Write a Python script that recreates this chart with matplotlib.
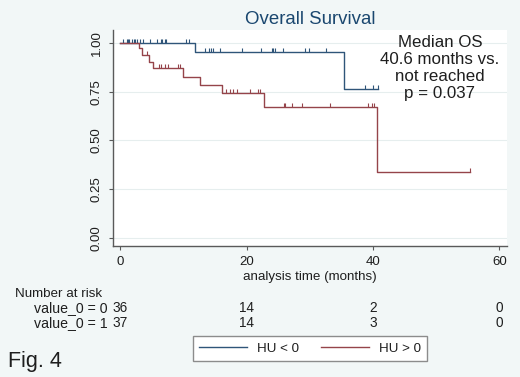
import numpy as np
import matplotlib
matplotlib.use('Agg')
import matplotlib.pyplot as plt
from matplotlib.path import Path
from matplotlib.markers import MarkerStyle
from matplotlib.lines import Line2D
from matplotlib.transforms import blended_transform_factory

plt.rcParams['font.family'] = ['Liberation Sans', 'DejaVu Sans']

# ---------------- data ----------------
group_labels = ["HU < 0", "HU > 0"]

blue_event_times = [0, 11.8, 35.4]
blue_survival = [1.0, 0.955, 0.765]
blue_last_time = 40.8
blue_censor_times = [0.5, 1.0, 1.2, 1.4, 1.8, 2.1, 2.4, 2.7, 3.1, 3.6, 4.7, 5.8,
                     6.4, 6.6, 7.0, 7.2, 10.4, 10.9, 13.4, 14.0, 14.3, 14.6, 15.8,
                     19.2, 22.3, 24.0, 24.2, 24.5, 25.8, 29.2, 29.9, 32.5, 38.7,
                     40.0, 40.8]

red_event_times = [0, 3.0, 3.5, 4.6, 5.1, 9.9, 12.6, 16.1, 22.7, 40.6]
red_survival = [1.0, 0.973, 0.94, 0.905, 0.871, 0.828, 0.785, 0.745, 0.674, 0.337]
red_last_time = 55.4
red_censor_times = [4.3, 6.1, 6.5, 7.0, 7.5, 9.1, 9.5, 16.7, 17.4, 17.9, 18.4,
                    20.5, 21.8, 22.1, 25.9, 26.1, 27.2, 28.7, 33.2, 39.2, 39.8,
                    40.2, 55.4]

risk_times = [0, 20, 40, 60]
risk_row_labels = ["value_0 = 0", "value_0 = 1"]
at_risk_0 = [36, 14, 2, 0]
at_risk_1 = [37, 14, 3, 0]

x_ticks = [0, 20, 40, 60]
y_ticks = [0.0, 0.25, 0.5, 0.75, 1.0]
y_tick_labels = ["0.00", "0.25", "0.50", "0.75", "1.00"]

annotation_lines = ["Median OS", "40.6 months vs.", "not reached", "p = 0.037"]

# ---------------- style ----------------
BG = '#f2f7f7'
BLUE = '#2f5579'
RED = '#95444a'
TXT = '#1e1e1e'
W, H = 520, 377

fig = plt.figure(figsize=(W / 100, H / 100), dpi=100, facecolor=BG)
ax = fig.add_axes([112.7 / W, 1 - 246 / H, (507 - 112.7) / W, 216 / H])
ax.set_facecolor('white')
ax.set_xlim(-1.2, 61.2)
ax.set_ylim(-0.043, 1.068)

for s in ['top', 'right']:
    ax.spines[s].set_visible(False)
for s in ['left', 'bottom']:
    ax.spines[s].set_color('#5a5a5a')
    ax.spines[s].set_linewidth(1.0)

ax.set_xticks(x_ticks)
ax.set_yticks(y_ticks)
ax.set_yticklabels(y_tick_labels)
ax.tick_params(axis='both', direction='out', length=3, width=0.8,
               color='#5a5a5a', labelsize=9.5, labelcolor=TXT)
ax.tick_params(axis='x', pad=4.5)
ax.tick_params(axis='y', pad=4.0, labelrotation=90)
for lab in ax.get_yticklabels():
    lab.set_va('center')
ax.yaxis.grid(True, color='#e6eeee', lw=0.8)
ax.set_axisbelow(True)

censor_marker = MarkerStyle(Path([(0, 0), (0, 1)]))


def draw_curve(times, surv, last, ctimes, color):
    t = np.append(times, last)
    s = np.append(surv, surv[-1])
    ax.step(t, s, where='post', color=color, lw=1.0)
    idx = np.searchsorted(times, ctimes, side='right') - 1
    lv = np.asarray(surv)[idx]
    ax.plot(ctimes, lv, linestyle='none', marker=censor_marker, ms=6,
            mew=0.8, color=color)


draw_curve(blue_event_times, blue_survival, blue_last_time, blue_censor_times, BLUE)
draw_curve(red_event_times, red_survival, red_last_time, red_censor_times, RED)

# title
fig.text(310 / W, 1 - 19 / H, "Overall Survival", ha='center', va='center',
         fontsize=13.4, color='#1a476f')

# annotation
for line, base in zip(annotation_lines, [47, 64, 81, 98]):
    fig.text(440 / W, 1 - base / H, line, ha='center', va='baseline',
             fontsize=12.2, color=TXT)

# x label
fig.text(310 / W, 1 - 277 / H, "analysis time (months)", ha='center',
         va='center', fontsize=9.6, color=TXT)

# number at risk table
tr = blended_transform_factory(ax.transData, fig.transFigure)
fig.text(15 / W, 1 - 297 / H, "Number at risk", ha='left', va='baseline',
         fontsize=9.6, color=TXT)
for row_label, counts, base in zip(risk_row_labels, [at_risk_0, at_risk_1], [312, 327]):
    fig.text(108 / W, 1 - base / H, row_label, ha='right', va='baseline',
             fontsize=10.2, color=TXT)
    for t, n in zip(risk_times, counts):
        ax.text(t, 1 - base / H, str(n), transform=tr, ha='center',
                va='baseline', fontsize=9.8, color=TXT, clip_on=False)

# legend
handles = [Line2D([], [], color=BLUE, lw=1.0), Line2D([], [], color=RED, lw=1.0)]
leg = fig.legend(handles, group_labels, loc='center',
                 bbox_to_anchor=(310 / W, 1 - 348.5 / H), ncol=2, frameon=True,
                 fancybox=False, edgecolor='#8c8c8c', facecolor='white',
                 framealpha=1, fontsize=9.6, handlelength=3.6,
                 handletextpad=0.75, columnspacing=1.6, borderpad=0.5)
leg.get_frame().set_linewidth(1.0)
for t in leg.get_texts():
    t.set_color(TXT)

# figure label
fig.text(8 / W, 1 - 367 / H, "Fig. 4", ha='left', va='baseline',
         fontsize=15.5, color=TXT)

fig.savefig('out.png', dpi=100, facecolor=fig.get_facecolor())
